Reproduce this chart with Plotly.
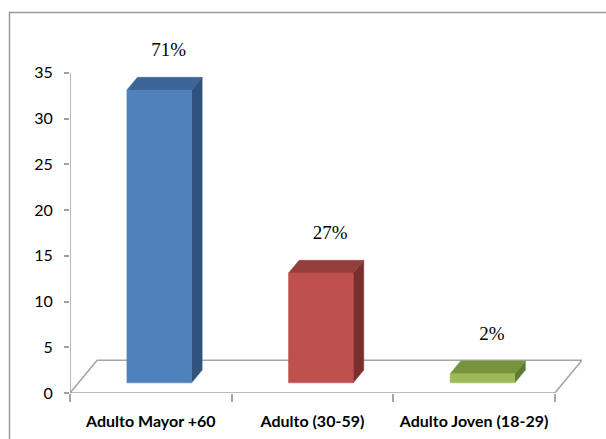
import plotly.graph_objects as go

# Data
categories = ["Adulto Mayor +60", "Adulto (30-59)", "Adulto Joven (18-29)"]
counts = [32, 12, 1]

# Face colours (front, top, side) for each bar
front_colors = ["#4F81BD", "#C0504D", "#9BBB59"]
top_colors = ["#3C6597", "#943D3A", "#77933D"]
side_colors = ["#31527C", "#7A2F2D", "#5F7A2F"]

# Oblique projection for the pseudo-3D look: depth z in [0, 1]
DX, DY = 0.168, 3.58          # screen shift of full floor depth (x units, y units)
Z_FRONT, Z_BACK = 0.31, 0.70  # bar position within the floor depth
HALF_W = 0.2                  # half bar width in category units

Y_MAX = 35        # top of the value axis
Y_VIEW = 40       # visible range, leaves room for the labels
X_MIN, X_MAX = -0.5, len(categories) - 0.5
AXIS_GREY = "#A0A0A0"


def proj(x, y, z):
    return x + z * DX, y + z * DY


def poly(points):
    xs, ys = zip(*[proj(*p) for p in points])
    return list(xs) + [xs[0]], list(ys) + [ys[0]]


fig = go.Figure()

# Floor
fx, fy = poly([(X_MIN, 0, 0), (X_MAX, 0, 0), (X_MAX, 0, 1), (X_MIN, 0, 1)])
fig.add_trace(go.Scatter(x=fx, y=fy, mode="lines", fill="toself",
                         fillcolor="white", line=dict(color="#A6A6A6", width=1.6),
                         hoverinfo="skip", showlegend=False))

# Value axis line (0 .. Y_MAX)
fig.add_trace(go.Scatter(x=[X_MIN, X_MIN], y=[0, Y_MAX], mode="lines",
                         line=dict(color=AXIS_GREY, width=1.5),
                         hoverinfo="skip", showlegend=False, cliponaxis=False))

# 3D columns
for i, v in enumerate(counts):
    x0, x1 = i - HALF_W, i + HALF_W
    faces = [
        ([(x1, 0, Z_FRONT), (x1, 0, Z_BACK), (x1, v, Z_BACK), (x1, v, Z_FRONT)], side_colors[i]),
        ([(x0, v, Z_FRONT), (x1, v, Z_FRONT), (x1, v, Z_BACK), (x0, v, Z_BACK)], top_colors[i]),
        ([(x0, 0, Z_FRONT), (x1, 0, Z_FRONT), (x1, v, Z_FRONT), (x0, v, Z_FRONT)], front_colors[i]),
    ]
    for pts, col in faces:
        px, py = poly(pts)
        fig.add_trace(go.Scatter(x=px, y=py, mode="lines", fill="toself",
                                 fillcolor=col, line=dict(color=col, width=0.5),
                                 hoverinfo="skip", showlegend=False))

# Percentage labels above the columns
total = sum(counts)
pct_text = [f"{round(v / total * 100)}%" for v in counts]
fig.add_trace(go.Scatter(
    x=[i + 0.11 for i in range(len(counts))],
    y=[v + 5.3 for v in counts],
    mode="text", text=pct_text, textposition="middle center",
    textfont=dict(family="Liberation Serif", size=19, color="#000000"),
    cliponaxis=False, hoverinfo="skip", showlegend=False, xaxis="x2",
))

L, R, B = 70, 24, 46
W, H = 606, 439
px_per_unit = 320 / Y_MAX
T = H - B - round(Y_VIEW * px_per_unit)
pw, ph = W - L - R, H - T - B
frame_top = 12.5

fig.update_layout(
    width=W, height=H,
    margin=dict(l=L, r=R, t=T, b=B, autoexpand=False),
    paper_bgcolor="white", plot_bgcolor="rgba(0,0,0,0)",
    xaxis=dict(range=[X_MIN, X_MAX + DX], tickvals=[-0.5 + k for k in range(len(categories) + 1)],
               ticktext=[""] * (len(categories) + 1), ticks="outside", ticklen=8,
               tickcolor="#A6A6A6", tickwidth=1.5, showline=False, showgrid=False,
               zeroline=False, automargin=False),
    xaxis2=dict(range=[X_MIN, X_MAX + DX], overlaying="x", anchor="y", side="bottom",
                tickvals=list(range(len(categories))), ticktext=categories, ticks="",
                showline=False, showgrid=False, zeroline=False, ticklabelstandoff=17,
                automargin=False,
                tickfont=dict(family="Lato", size=16, color="#000000", weight="bold")),
    yaxis=dict(range=[0, Y_VIEW], tickvals=list(range(0, Y_MAX + 1, 5)),
               ticks="outside", ticklen=5, tickwidth=1.5,
               tickcolor=AXIS_GREY, showline=False, showgrid=False, zeroline=False,
               ticklabelstandoff=8, automargin=False,
               tickfont=dict(family="Lato", size=16, color="#000000")),
    shapes=[dict(type="rect", xref="paper", yref="paper",
                 x0=(9.5 - L) / pw, x1=(W + 20 - L) / pw,
                 y0=-(B + 20) / ph, y1=(H - B - frame_top) / ph,
                 line=dict(color="#9A9A9A", width=1.5), layer="below")],
)

fig.write_html("out.html")
